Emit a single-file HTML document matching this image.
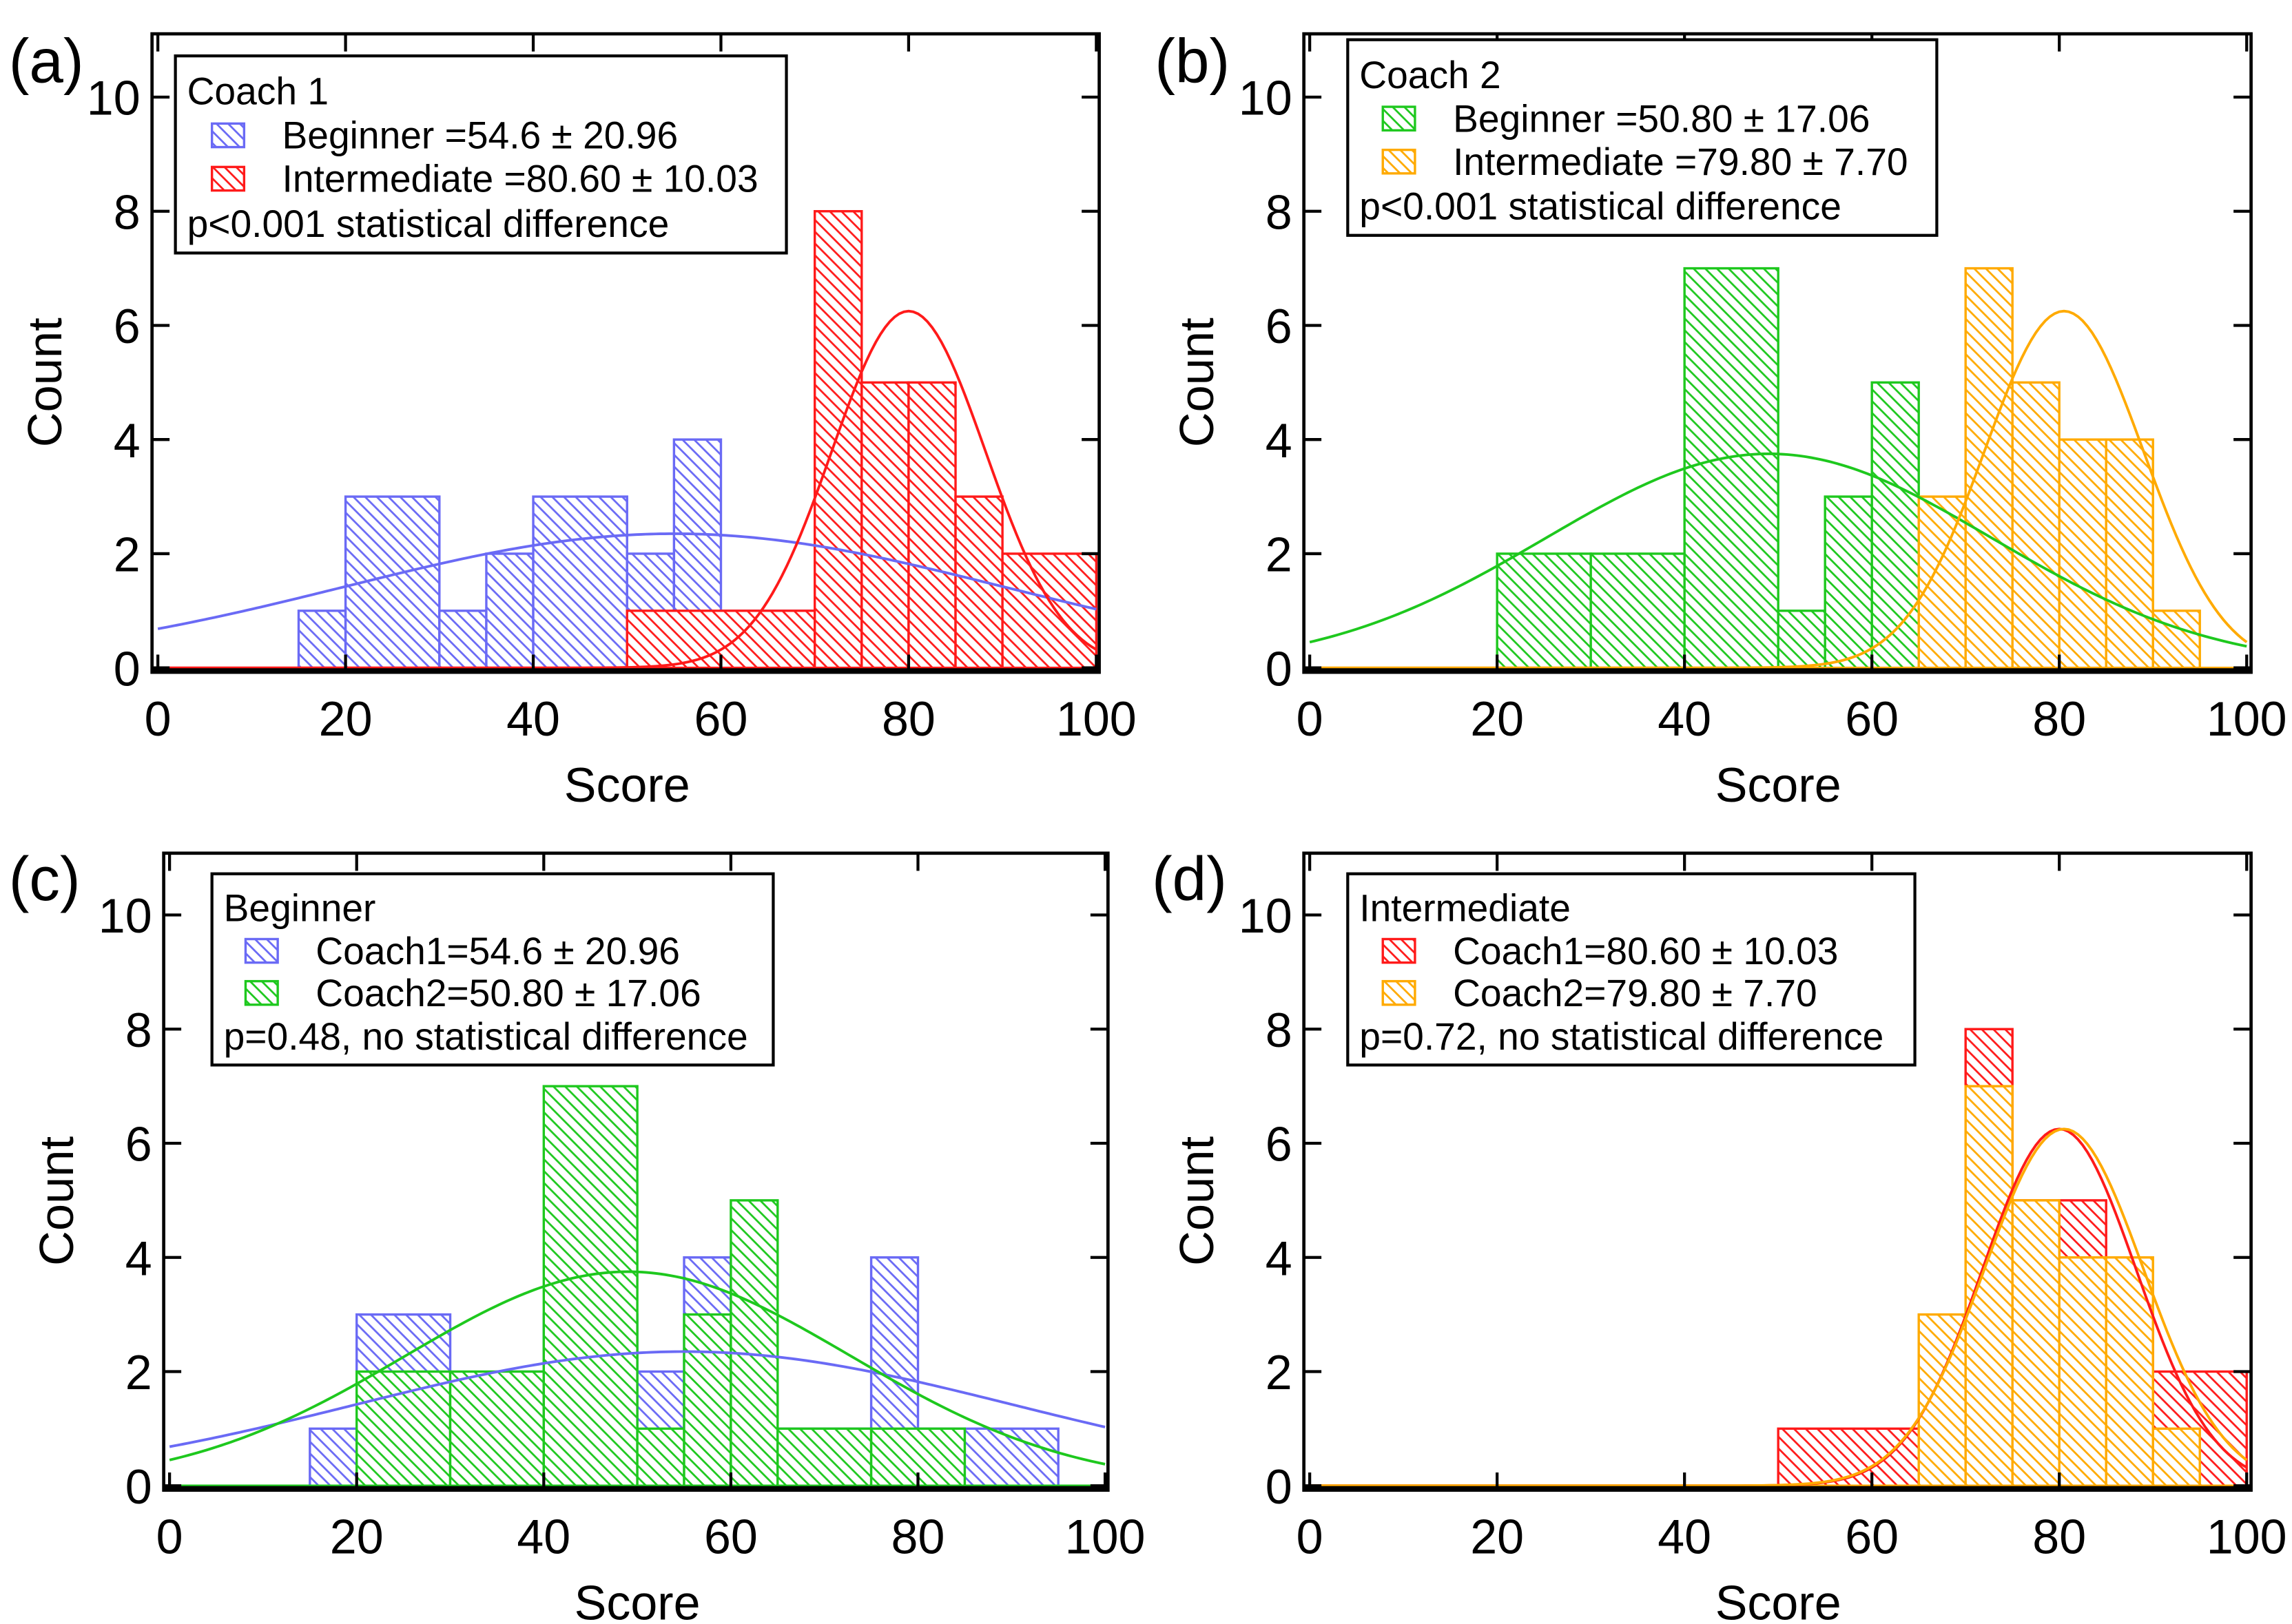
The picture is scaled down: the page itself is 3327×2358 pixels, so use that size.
<!DOCTYPE html>
<html><head><meta charset="utf-8">
<style>
html,body{margin:0;padding:0;background:#fff;}
svg{display:block;font-family:"Liberation Sans",Arial,sans-serif;}
</style></head>
<body>
<svg id="fig" width="3327" height="2358" viewBox="0 0 1568 1104" preserveAspectRatio="none" xmlns="http://www.w3.org/2000/svg">
<defs>
<pattern id="h-blue" patternUnits="userSpaceOnUse" width="8" height="8"><rect width="8" height="8" fill="#fff"/><path d="M-1,-1 L9,9 M-9,-1 L1,9 M7,-1 L17,9" stroke="#6a6af5" stroke-width="1.3"/></pattern>
<pattern id="h-red" patternUnits="userSpaceOnUse" width="8" height="8"><rect width="8" height="8" fill="#fff"/><path d="M-1,-1 L9,9 M-9,-1 L1,9 M7,-1 L17,9" stroke="#ff1a1a" stroke-width="1.3"/></pattern>
<pattern id="h-green" patternUnits="userSpaceOnUse" width="8" height="8"><rect width="8" height="8" fill="#fff"/><path d="M-1,-1 L9,9 M-9,-1 L1,9 M7,-1 L17,9" stroke="#1ec81e" stroke-width="1.3"/></pattern>
<pattern id="h-orange" patternUnits="userSpaceOnUse" width="8" height="8"><rect width="8" height="8" fill="#fff"/><path d="M-1,-1 L9,9 M-9,-1 L1,9 M7,-1 L17,9" stroke="#ffaa00" stroke-width="1.3"/></pattern>
</defs>
</svg>
<script>
// ---- data ----
const xTicks = [0, 20, 40, 60, 80, 100];
const yTicks = [0, 2, 4, 6, 8, 10];
const beginnerC1Edges = [15, 20, 30, 35, 40, 50, 55, 60, 75, 80, 85, 95];
const beginnerC1Counts = [1, 3, 1, 2, 3, 2, 4, 1, 4, 1, 1];
const interC1Edges = [50, 70, 75, 80, 85, 90, 100];
const interC1Counts = [1, 8, 5, 5, 3, 2];
const beginnerC2Edges = [20, 30, 40, 50, 55, 60, 65, 75, 85];
const beginnerC2Counts = [2, 2, 7, 1, 3, 5, 1, 1];
const interC2Edges = [65, 70, 75, 80, 85, 90, 95];
const interC2Counts = [3, 7, 5, 4, 4, 1];
// fitted curves: [mean, sd, peak]
const fitBeginnerC1 = [55, 35, 2.35];
const fitInterC1 = [80, 8.2, 6.25];
const fitBeginnerC2 = [49, 23.8, 3.75];
const fitInterC2 = [80.5, 8.5, 6.25];

const COL = {blue:'#6a6af5', red:'#ff1a1a', green:'#1ec81e', orange:'#ffaa00'};
const svg = document.getElementById('fig');
const NS = 'http://www.w3.org/2000/svg';
function mk(tag, attrs, parent){const e=document.createElementNS(NS,tag);for(const k in attrs)e.setAttribute(k,attrs[k]);(parent||svg).appendChild(e);return e;}

const panels = [
 {id:'a', x0:108, x1:750, y0:454, y10:66, fl:104, fr:752, ft:23, fb:457, lab:[6,56],
  series:[{name:'beginner-coach1',e:beginnerC1Edges,c:beginnerC1Counts,col:'blue',fit:fitBeginnerC1},{name:'intermediate-coach1',e:interC1Edges,c:interC1Counts,col:'red',fit:fitInterC1}],
  leg:{x:120,y:38,w:418,h:134,title:'Coach 1',items:[['blue','Beginner =54.6 \u00b1 20.96'],['red','Intermediate =80.60 \u00b1 10.03']],p:'p<0.001 statistical difference',sx:145,tx:193}},
 {id:'b', x0:896, x1:1537, y0:454, y10:66, fl:892, fr:1540, ft:23, fb:457, lab:[790,56],
  series:[{name:'beginner-coach2',e:beginnerC2Edges,c:beginnerC2Counts,col:'green',fit:fitBeginnerC2},{name:'intermediate-coach2',e:interC2Edges,c:interC2Counts,col:'orange',fit:fitInterC2}],
  leg:{x:922,y:27,w:403,h:133,title:'Coach 2',items:[['green','Beginner =50.80 \u00b1 17.06'],['orange','Intermediate =79.80 \u00b1 7.70']],p:'p<0.001 statistical difference',sx:946,tx:994}},
 {id:'c', x0:116, x1:756, y0:1010, y10:622, fl:112, fr:758, ft:580, fb:1013, lab:[6,612],
  series:[{name:'beginner-coach1',e:beginnerC1Edges,c:beginnerC1Counts,col:'blue',fit:fitBeginnerC1},{name:'beginner-coach2',e:beginnerC2Edges,c:beginnerC2Counts,col:'green',fit:fitBeginnerC2}],
  leg:{x:145,y:594,w:384,h:130,title:'Beginner',items:[['blue','Coach1=54.6 \u00b1 20.96'],['green','Coach2=50.80 \u00b1 17.06']],p:'p=0.48, no statistical difference',sx:168,tx:216}},
 {id:'d', x0:896, x1:1537, y0:1010, y10:622, fl:892, fr:1540, ft:580, fb:1013, lab:[788,612],
  series:[{name:'intermediate-coach1',e:interC1Edges,c:interC1Counts,col:'red',fit:fitInterC1},{name:'intermediate-coach2',e:interC2Edges,c:interC2Counts,col:'orange',fit:fitInterC2}],
  leg:{x:922,y:594,w:388,h:130,title:'Intermediate',items:[['red','Coach1=80.60 \u00b1 10.03'],['orange','Coach2=79.80 \u00b1 7.70']],p:'p=0.72, no statistical difference',sx:946,tx:994}}
];

panels.forEach(P=>{
  const g = mk('g',{});
  
  
  const X = v => P.x0 + (P.x1-P.x0)*v/100;
  const Y = v => P.y0 - (P.y0-P.y10)*v/10;

  P.series.forEach(s=>{
    const sg = mk('g',{}, g);
    
    
    const bl = mk('line',{x1:X(0),x2:X(100),y1:Y(0),y2:Y(0),stroke:COL[s.col],'stroke-width':1.6}, sg);
    
    
    s.c.forEach((cnt,i)=>{
      if(cnt<=0) return;
      const x=X(s.e[i]), w=X(s.e[i+1])-x, y=Y(cnt), h=Y(0)-y;
      const r = mk('rect',{x:x,y:y,width:w,height:h,fill:'url(#h-'+s.col+')',stroke:COL[s.col],'stroke-width':1.6}, sg);
      
      
    });
  });
  P.series.forEach(s=>{
    const [m,sd,pk] = s.fit;
    let d='';
    for(let v=0; v<=100; v+=0.5){
      const yv = pk*Math.exp(-((v-m)*(v-m))/(2*sd*sd));
      d += (v===0?'M':'L')+X(v).toFixed(2)+','+Y(yv).toFixed(2)+' ';
    }
    const c = mk('path',{d:d,fill:'none',stroke:COL[s.col],'stroke-width':1.8}, g);
    
    
  });

  const fr = mk('rect',{x:P.fl,y:P.ft,width:P.fr-P.fl,height:P.fb-P.ft,fill:'none',stroke:'#000','stroke-width':2.2}, g);
  
  
  mk('line',{x1:P.fl,x2:P.fr,y1:P.fb-1.5,y2:P.fb-1.5,stroke:'#000','stroke-width':2.5}, g);

  xTicks.forEach(t=>{
    mk('line',{x1:X(t),x2:X(t),y1:P.ft,y2:P.ft+12,stroke:'#000','stroke-width':2}, g);
    mk('line',{x1:X(t),x2:X(t),y1:P.fb,y2:P.fb-12,stroke:'#000','stroke-width':2}, g);
    const tl = mk('text',{x:X(t),y:P.fb+43,'text-anchor':'middle','font-size':33}, g);
    tl.textContent = t;
    
    
  });
  yTicks.forEach(t=>{
    mk('line',{x1:P.fl,x2:P.fl+12,y1:Y(t),y2:Y(t),stroke:'#000','stroke-width':2}, g);
    mk('line',{x1:P.fr,x2:P.fr-12,y1:Y(t),y2:Y(t),stroke:'#000','stroke-width':2}, g);
    const tl = mk('text',{x:P.fl-8,y:Y(t)+12,'text-anchor':'end','font-size':33}, g);
    tl.textContent = t;
    
    
  });
  const xt = mk('text',{x:(P.x0+P.x1)/2,y:P.fb+88,'text-anchor':'middle','font-size':33}, g);
  xt.textContent = 'Score';
  
  
  const ycx = P.fl-62, ycy = (P.ft+P.fb)/2+20;
  const yt = mk('text',{x:ycx,y:ycy,'text-anchor':'middle','font-size':33,transform:'rotate(-90 '+ycx+' '+ycy+')'}, g);
  yt.textContent = 'Count';
  
  
  const pl = mk('text',{x:P.lab[0],y:P.lab[1],'font-size':42}, g);
  pl.textContent = '('+P.id+')';
  
  

  const L = P.leg;
  const k = L.h/134;
  const lg = mk('g',{}, g);
  
  
  mk('rect',{x:L.x,y:L.y,width:L.w,height:L.h,fill:'#fff',stroke:'#000','stroke-width':2}, lg);
  const tt = mk('text',{x:L.x+8,y:L.y+24*k+9,'font-size':26}, lg);
  tt.textContent = L.title;
  
  
  L.items.forEach((it,i)=>{
    const cy = L.y + (54+29.5*i)*k;
    const sw = mk('rect',{x:L.sx,y:cy-8,width:22,height:16,fill:'url(#h-'+it[0]+')',stroke:COL[it[0]],'stroke-width':1.6}, lg);
    
    
    const te = mk('text',{x:L.tx,y:cy+9,'font-size':26}, lg);
    te.textContent = it[1];
    
    
  });
  const pt = mk('text',{x:L.x+8,y:L.y+114*k+9,'font-size':26}, lg);
  pt.textContent = L.p;
  
  
});
</script>
</body></html>
